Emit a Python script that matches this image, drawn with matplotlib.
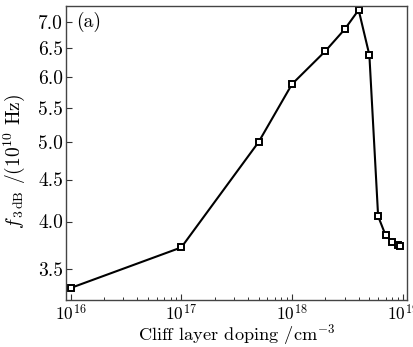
import numpy as np
import matplotlib.pyplot as plt
from matplotlib.ticker import FixedLocator, FixedFormatter, LogLocator, NullFormatter

plt.rcParams['font.family'] = 'cmr10'
plt.rcParams['mathtext.fontset'] = 'cm'
plt.rcParams['axes.formatter.use_mathtext'] = True

# cliff layer doping (cm^-3) and 3 dB bandwidth (1e10 Hz)
doping = [1e16, 1e17, 5e17, 1e18, 2e18, 3e18, 4e18, 5e18, 6e18, 7e18, 8e18, 9e18, 9.5e18]
f3db = [3.32, 3.72, 5.00, 5.88, 6.45, 6.86, 7.24, 6.38, 4.06, 3.85, 3.78, 3.75, 3.73]

yticks = [3.5, 4.0, 4.5, 5.0, 5.5, 6.0, 6.5, 7.0]

fig = plt.figure(figsize=(4.14, 3.47), dpi=100)
ax = fig.add_axes([66 / 414, 47 / 347, 341 / 414, 294 / 347])

ax.plot(doping, f3db, color='black', lw=1.5, marker='s', ms=5,
        mfc='white', mec='black', mew=1.4)

ax.set_xscale('log')
ax.set_yscale('log')
ax.set_xlim(10 ** 15.958, 10 ** 19.039)
ax.set_ylim(3.21, 7.32)

ax.yaxis.set_major_locator(FixedLocator(yticks))
ax.yaxis.set_major_formatter(FixedFormatter(['%.1f' % v for v in yticks]))
ax.yaxis.set_minor_locator(FixedLocator([]))
ax.yaxis.set_minor_formatter(NullFormatter())
ax.xaxis.set_major_locator(FixedLocator([1e16, 1e17, 1e18, 1e19]))
ax.xaxis.set_minor_locator(LogLocator(base=10, subs=np.arange(2, 10)))
ax.xaxis.set_minor_formatter(NullFormatter())

ax.tick_params(which='both', direction='in', top=False, right=False,
               labelsize=12.5, color='#333333', pad=2)
ax.tick_params(axis='y', labelsize=14)
ax.tick_params(which='major', length=4, width=0.8)
ax.tick_params(which='minor', length=2.5, width=0.7)
for s in ax.spines.values():
    s.set_color('#444444')
    s.set_linewidth(1.0)

ax.set_xlabel('Cliff layer doping /cm$^{-3}$', fontsize=13.2, labelpad=-0.5)
ax.set_ylabel(r'$f_{\,3\,\mathrm{dB}}$ /(10$^{10}$ Hz)', fontsize=14)
ax.yaxis.set_label_coords(-0.115, 0.47)
ax.text(0.03, 0.945, '(a)', transform=ax.transAxes, fontsize=14, va='center')

fig.savefig('out.png', dpi=100)
